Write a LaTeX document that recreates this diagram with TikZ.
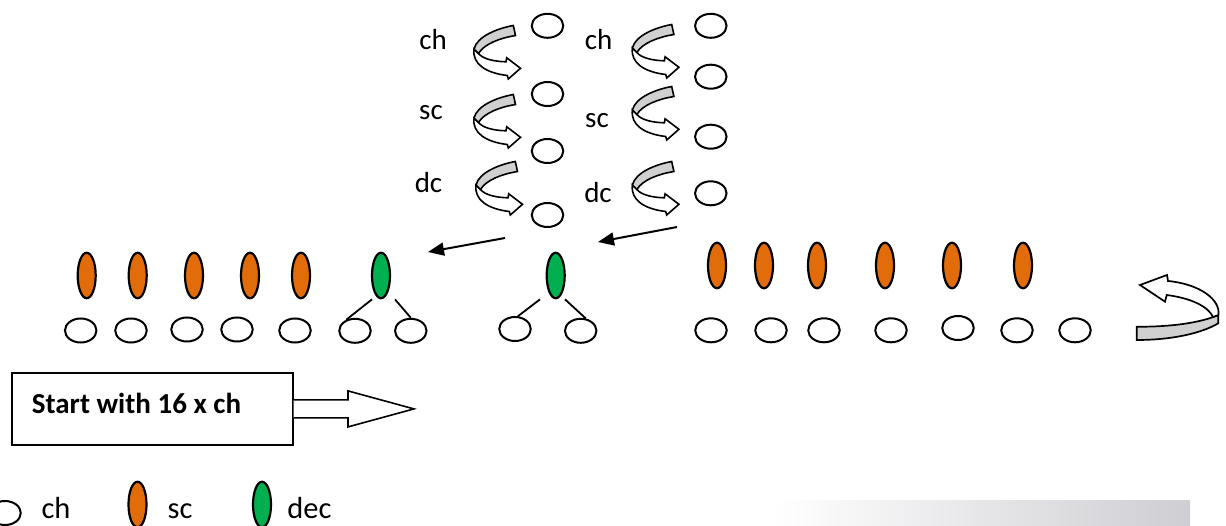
\documentclass[tikz,border=0pt]{standalone}
\usepackage{fontspec}
\setmainfont{Carlito}
\usetikzlibrary{shapes.geometric,arrows.meta}
\definecolor{scorange}{RGB}{227,108,10}
\definecolor{decgreen}{RGB}{0,176,80}
\definecolor{bandgray}{RGB}{208,208,208}
\definecolor{shadegray}{RGB}{206,206,211}
\tikzset{
  chst/.style={ellipse, draw, line width=2pt, fill=white, minimum width=31.5pt, minimum height=24pt, inner sep=0pt},
  scst/.style={ellipse, draw, line width=2.2pt, fill=scorange, minimum width=18pt, minimum height=45.5pt, inner sep=0pt},
  decst/.style={scst, fill=decgreen},
  lbl/.style={font=\fontsize{29}{34}\selectfont, anchor=base, inner sep=0pt},
  leglbl/.style={font=\fontsize{30.5}{36}\selectfont, anchor=base, inner sep=0pt},
  stem/.style={line width=1.8pt},
  pointer/.style={line width=2pt, -{Triangle[length=16pt,width=13pt]}},
  curlarrow/.pic={
    \draw[line width=1.6pt, fill=white, line join=miter]
      (2,23) .. controls (0,38) and (14,47) .. (35.3,49.5) -- (36.3,53) -- (48.5,42.3) -- (34.7,31.8) -- (34,35.8)
      .. controls (22,35.5) and (11,33) .. (6.5,27.5) -- cycle;
    \draw[line width=1.6pt, fill=bandgray]
      (41.3,-0.5) .. controls (25,2.5) and (5,10.5) .. (2,23) -- (6.5,27.5)
      .. controls (12,18) and (28,12) .. (43.5,9.5) -- cycle;
  }
}
\begin{document}
\begin{tikzpicture}[x=1pt,y=-1pt]
\useasboundingbox (0,0) rectangle (1226,526);
\clip (0,0) rectangle (1226,526);

% bottom-right shaded band
\shade[left color=white, right color=shadegray] (773,500) rectangle (1190,526);

% top column labels
\node[lbl] (lch1) at (433,50) {ch};
\node[lbl] (lsc1) at (431,119.3) {sc};
\node[lbl] (ldc1) at (428.5,193) {dc};
\node[lbl] (lch2) at (598.5,50) {ch};
\node[lbl] (lsc2) at (597,128) {sc};
\node[lbl] (ldc2) at (598,202.7) {dc};

% curled arrows
\pic at (472,26) {curlarrow};
\pic at (472,95) {curlarrow};
\pic at (474,162) {curlarrow};
\pic at (630.4,25) {curlarrow};
\pic at (630.4,87) {curlarrow};
\pic at (630.4,162) {curlarrow};

% top circles
\node[chst] (t1) at (547.5,25.8) {};
\node[chst] (t2) at (547.5,94) {};
\node[chst] (t3) at (547.5,151) {};
\node[chst] (t4) at (547.5,215) {};
\node[chst] (u1) at (710.8,25.8) {};
\node[chst] (u2) at (710.8,76.7) {};
\node[chst] (u3) at (710.8,136.7) {};
\node[chst] (u4) at (710.8,193.3) {};

% pointers
\coordinate (p1s) at (505,238);
\coordinate (p1e) at (428,252);
\coordinate (p2s) at (677,227);
\coordinate (p2e) at (598,242);
\draw[pointer] (p1s) -- (p1e);
\draw[pointer] (p2s) -- (p2e);

% left row
\node[scst] (s1) at (86.7,275.5) {};
\node[scst] (s2) at (137.7,275.5) {};
\node[scst] (s3) at (194,275.5) {};
\node[scst] (s4) at (250,275.5) {};
\node[scst] (s5) at (301,275.5) {};
\node[decst] (g1) at (381,275.5) {};
\node[chst] (c1) at (80.7,330.5) {};
\node[chst] (c2) at (131,330.5) {};
\node[chst] (c3) at (187,329.5) {};
\node[chst] (c4) at (237,329.5) {};
\node[chst] (c5) at (295,330.5) {};
\node[chst] (c6) at (355,330.8) {};
\node[chst] (c7) at (410.8,330.8) {};
\draw[stem] ([xshift=-9pt]g1.south) -- (c6.128);
\draw[stem] ([xshift=14pt]g1.south) -- (c7.north);

% middle
\node[decst] (g2) at (555.7,275.5) {};
\node[chst] (m1) at (515,329) {};
\node[chst] (m2) at (580.7,330.8) {};
\draw[stem] ([xshift=-15.7pt]g2.south) -- (m1.77);
\draw[stem] ([xshift=9.3pt]g2.south) -- (m2.68);

% right row
\node[scst] (r1) at (717,265.5) {};
\node[scst] (r2) at (764,265.5) {};
\node[scst] (r3) at (817,265.5) {};
\node[scst] (r4) at (885,265.5) {};
\node[scst] (r5) at (952,265.5) {};
\node[scst] (r6) at (1023,265.5) {};
\node[chst] (k1) at (711,330.3) {};
\node[chst] (k2) at (771,330.3) {};
\node[chst] (k3) at (824,330.3) {};
\node[chst] (k4) at (891,330.3) {};
\node[chst] (k5) at (958,328) {};
\node[chst] (k6) at (1017,330.3) {};
\node[chst] (k7) at (1075,330.3) {};

% big turning arrow on the right
\draw[line width=1.7pt, fill=bandgray]
  (1136.7,326.7) .. controls (1170,327) and (1200,323) .. (1218.3,315) -- (1218.3,323.3)
  .. controls (1200,334) and (1170,340) .. (1136.7,340) -- cycle;
\draw[line width=1.7pt, fill=white, line join=miter]
  (1218.3,315) .. controls (1221,300) and (1200,284) .. (1168,281) -- (1167,275) -- (1140,285)
  -- (1165,301.7) -- (1166.7,295) .. controls (1190,298) and (1208,306) .. (1213,317) -- cycle;

% start box and block arrow
\node[draw, line width=2pt, minimum width=281pt, minimum height=72.3pt, inner sep=0pt] (startbox) at (152.2,408.9) {};
\node[font=\fontsize{29}{34}\selectfont\bfseries, anchor=base west, inner sep=0pt] (starttxt) at (31.7,413.3) {Start with 16 x ch};
\draw[line width=1.6pt, fill=white, line join=miter]
  ([yshift=9pt]startbox.east) -- ++(54.3,0) -- ++(0,-9) -- ++(66,18) -- ++(-66,18) -- ++(0,-9) -- ([yshift=-9pt]startbox.east);

% legend
\node[chst] (legch) at (5,513) {};
\node[leglbl] (legchtxt) at (56,518.3) {ch};
\node[scst] (legsc) at (137.5,504.5) {};
\node[leglbl] (legsctxt) at (180,518.3) {sc};
\node[decst] (legdec) at (262,504.5) {};
\node[leglbl] (legdectxt) at (309.5,518.3) {dec};
\end{tikzpicture}
\end{document}
